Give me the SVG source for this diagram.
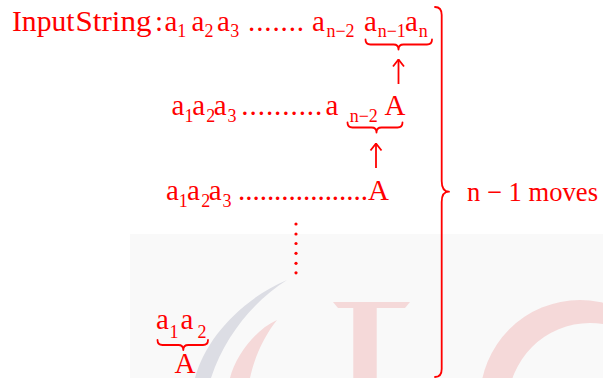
<svg xmlns="http://www.w3.org/2000/svg" width="603" height="378" viewBox="0 0 603 378">
  <defs>
    <style>
      text { font-family: "Liberation Serif", "Times New Roman", serif; fill: #ff0000; }
      .m { font-size: 29px; }
      .s { font-size: 18px; }
      .br { fill: none; stroke: #ff0000; stroke-width: 1.8; stroke-linecap: round; stroke-linejoin: round; }
      .ar { fill: none; stroke: #ff0000; stroke-width: 1.8; }
      .wm-p { fill: #f5d9d9; }
    </style>
    <marker id="ah" viewBox="-9 -7 10 14" refX="0" refY="0" markerWidth="10" markerHeight="14" markerUnits="userSpaceOnUse" orient="auto">
      <path d="M-7,-5.5 L0,0 L-7,5.5" fill="none" stroke="#ff0000" stroke-width="1.8"/>
    </marker>
  </defs>

  <rect x="0" y="0" width="603" height="378" fill="#ffffff"/>

  <!-- faint watermark in the background -->
  <g id="watermark">
    <rect x="130" y="234" width="473" height="144" fill="#f9f9f9"/>
    <path class="wm-p" fill-rule="evenodd" d="M480,400 A100,100 0 1 1 680,400 A100,100 0 1 1 480,400 Z M508,405 A82,82 0 1 0 672,405 A82,82 0 1 0 508,405 Z"/>
    <rect class="wm-p" x="353.3" y="302" width="23.4" height="76"/>
    <path class="wm-p" d="M333,302 L410,302 L405,308 L338,308 Z"/>
    <path class="wm-p" d="M277,320 C255,330 236,355 230,378 L250,378 C255,355 265,335 277,320 Z"/>
    <path fill="#dcdde4" d="M287,280 C240,300 205,340 195,378 L211,378 C225,335 255,300 287,280 Z"/>
  </g>

  <g id="row1">
    <text class="m" x="12" y="30.5" textLength="62.5" lengthAdjust="spacingAndGlyphs">Input</text>
    <text class="m" x="75.5" y="30.5" textLength="76" lengthAdjust="spacingAndGlyphs">String</text>
    <text class="m" x="155" y="30.5">:</text>
    <text class="m"><tspan x="164.5" y="30.5">a</tspan><tspan class="s" x="177.3" y="37">1</tspan></text>
    <text class="m"><tspan x="191.5" y="30.5">a</tspan><tspan class="s" x="204.5" y="37">2</tspan></text>
    <text class="m"><tspan x="217" y="30.5">a</tspan><tspan class="s" x="230.3" y="37">3</tspan></text>
    <text class="m" x="248" y="30.5" textLength="56" lengthAdjust="spacing">.......</text>
    <text class="m"><tspan x="312" y="30.5">a</tspan><tspan class="s" x="326.4" y="37">n−2</tspan></text>
    <text class="m"><tspan x="364" y="30.5">a</tspan><tspan class="s" x="377.7" y="37">n−1</tspan><tspan x="405" y="30.5">a</tspan><tspan class="s" x="418.7" y="37">n</tspan></text>
    <path class="br" d="M365.5,39.5 Q365.5,44.5 370.5,44.5 H393.5 Q398.5,44.5 398.5,49.5 Q398.5,44.5 403.5,44.5 H427 Q432,44.5 432,39.5"/>
  </g>

  <g id="row2">
    <text class="m"><tspan x="171.5" y="115">a</tspan><tspan class="s" x="184.4" y="121.5">1</tspan><tspan x="192.2" y="115">a</tspan><tspan class="s" x="206.2" y="121.5">2</tspan><tspan x="213.8" y="115">a</tspan><tspan class="s" x="227.6" y="121.5">3</tspan></text>
    <text class="m" x="241.3" y="115" textLength="81" lengthAdjust="spacing">..........</text>
    <text class="m"><tspan x="325.5" y="115">a</tspan><tspan class="s" x="349.7" y="121.5">n−2</tspan><tspan x="384.4" y="115">A</tspan></text>
    <path class="br" d="M347.5,122.5 Q347.5,127.5 352.5,127.5 H371.5 Q376.5,127.5 376.5,132.5 Q376.5,127.5 381.5,127.5 H397.5 Q402.5,127.5 402.5,122.5"/>
  </g>

  <g id="row3">
    <text class="m"><tspan x="166.1" y="200">a</tspan><tspan class="s" x="178.8" y="206.5">1</tspan><tspan x="187.1" y="200">a</tspan><tspan class="s" x="201.2" y="206.5">2</tspan><tspan x="208.8" y="200">a</tspan><tspan class="s" x="222.6" y="206.5">3</tspan></text>
    <text class="m" x="238" y="200" textLength="130" lengthAdjust="spacing">..................</text>
    <text class="m" x="368" y="200">A</text>
  </g>

  <g id="vdots" fill="#ff0000">
    <circle cx="296" cy="224" r="1.6"/>
    <circle cx="296" cy="234" r="1.6"/>
    <circle cx="296" cy="243.5" r="1.6"/>
    <circle cx="296" cy="253.3" r="1.6"/>
    <circle cx="296" cy="263.3" r="1.6"/>
    <circle cx="296" cy="272.8" r="1.6"/>
  </g>

  <g id="row4">
    <text class="m"><tspan x="156.1" y="329.3">a</tspan><tspan class="s" x="169.6" y="338.3">1</tspan><tspan x="180.5" y="329.3">a</tspan><tspan class="s" x="197.6" y="338.3">2</tspan></text>
    <path class="br" d="M157.5,340 Q157.5,345 162.5,345 H178.3 Q183.3,345 183.3,350 Q183.3,345 188.3,345 H203 Q208,345 208,340"/>
    <text class="m" x="174.4" y="373.3">A</text>
  </g>

  <g id="moves">
    <path class="br" d="M435,7 Q441.7,7 441.7,15 V181 Q441.7,191.7 449,191.7 Q441.7,191.7 441.7,202 V369 Q441.7,377 435,377"/>
    <text x="467" y="201" style="font-size:27px" textLength="131" lengthAdjust="spacingAndGlyphs">n − 1 moves</text>
  </g>

  <g id="connectors">
    <line class="ar" x1="398.5" y1="84" x2="398.5" y2="59.5" marker-end="url(#ah)"/>
    <line class="ar" x1="376" y1="168" x2="376" y2="143.5" marker-end="url(#ah)"/>
  </g>
</svg>
